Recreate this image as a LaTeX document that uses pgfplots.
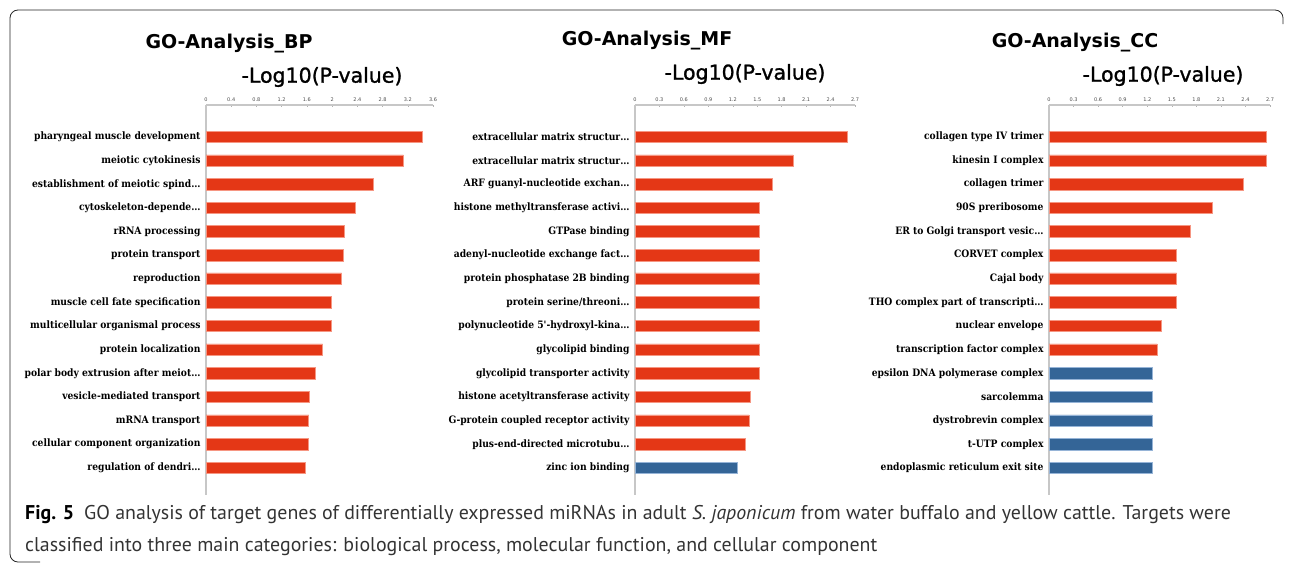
\documentclass[border=0pt]{standalone}
\usepackage{fontspec}
\usepackage{pgfplots}
\pgfplotsset{compat=1.18}
\setmainfont{DejaVu Sans}
\newfontfamily\lblfont[FakeStretch=0.9]{DejaVu Serif}
\newfontfamily\subfont[FakeBold=1.2]{DejaVu Sans}
\newfontfamily\capfont{PT Sans}

\definecolor{gored}{RGB}{228,55,22}
\definecolor{goblue}{RGB}{52,101,151}
\definecolor{rededge}{RGB}{246,150,130}
\definecolor{blueedge}{RGB}{150,180,215}

\pgfplotsset{
  goaxis/.style={
    scale only axis, xbar, bar width=11.5pt,
    height=390pt, xmin=0,
    y dir=reverse, ymin=-1.35, ymax=15.15, ytick={0,...,14},
    axis x line*=top, axis y line*=left,
    axis line style={black!22, line width=1.2pt},
    major tick length=2pt, tick style={black!30, line width=0.4pt},
    ytick style={draw=none},
    x tick label style={font=\fontsize{5}{5}\selectfont, text=black!70},
    y tick label style={font=\lblfont\bfseries\fontsize{10.2}{11}\selectfont, text=black},
    /pgf/number format/assume math mode=true,
  },
  redbar/.style={fill=gored, draw=rededge, line width=0.6pt, bar shift=0pt},
  bluebar/.style={fill=goblue, draw=blueedge, line width=0.6pt, bar shift=0pt},
}

\begin{document}
\begin{tikzpicture}[x=1pt, y=-1pt]
\useasboundingbox (0,0) rectangle (1292,565);

% frame
\draw[black!85, line width=0.8pt, rounded corners=8pt] (1283,24) -- (1283,10) -- (10,10) -- (10,562) -- (40,562);

% titles
\node[font=\bfseries\fontsize{19}{19}\selectfont] at (229,44) {GO-Analysis\_BP};
\node[font=\bfseries\fontsize{19}{19}\selectfont] at (647,41) {GO-Analysis\_MF};
\node[font=\bfseries\fontsize{19}{19}\selectfont] at (1075,43) {GO-Analysis\_CC};
\node[font=\subfont\fontsize{20.5}{21}\selectfont] at (322,77) {-Log10(P-value)};
\node[font=\subfont\fontsize{20.5}{21}\selectfont] at (745,74) {-Log10(P-value)};
\node[font=\subfont\fontsize{20.5}{21}\selectfont] at (1163,76) {-Log10(P-value)};

% BP
\begin{axis}[goaxis, at={(206pt,-105pt)}, anchor=north west, width=227pt,
  xmax=3.6, xtick={0,0.4,0.8,1.2,1.6,2,2.4,2.8,3.2,3.6},
  xticklabels={0,0.4,0.8,1.2,1.6,2,2.4,2.8,3.2,3.6},
  yticklabels={pharyngeal muscle development, meiotic cytokinesis,
    establishment of meiotic spind\dots, cytoskeleton-depende\dots,
    rRNA processing, protein transport, reproduction,
    muscle cell fate specification, multicellular organismal process,
    protein localization, polar body extrusion after meiot\dots,
    vesicle-mediated transport, mRNA transport,
    cellular component organization, regulation of dendri\dots}]
\addplot[redbar] coordinates {
  (3.43,0) (3.13,1) (2.66,2) (2.37,3) (2.19,4) (2.18,5) (2.15,6) (1.99,7)
  (1.99,8) (1.85,9) (1.73,10) (1.64,11) (1.63,12) (1.63,13) (1.58,14)};
\end{axis}

% MF
\begin{axis}[goaxis, at={(635pt,-105pt)}, anchor=north west, width=220pt,
  xmax=2.7, xtick={0,0.3,0.6,0.9,1.2,1.5,1.8,2.1,2.4,2.7},
  xticklabels={0,0.3,0.6,0.9,1.2,1.5,1.8,2.1,2.4,2.7},
  yticklabels={extracellular matrix structur\dots, extracellular matrix structur\dots,
    ARF guanyl-nucleotide exchan\dots, histone methyltransferase activi\dots,
    GTPase binding, adenyl-nucleotide exchange fact\dots,
    protein phosphatase 2B binding, protein serine/threoni\dots,
    polynucleotide 5'-hydroxyl-kina\dots, glycolipid binding,
    glycolipid transporter activity, histone acetyltransferase activity,
    G-protein coupled receptor activity, plus-end-directed microtubu\dots,
    zinc ion binding}]
\addplot[redbar] coordinates {
  (2.60,0) (1.94,1) (1.69,2) (1.53,3) (1.53,4) (1.53,5) (1.53,6) (1.53,7)
  (1.53,8) (1.53,9) (1.53,10) (1.42,11) (1.40,12) (1.35,13)};
\addplot[bluebar] coordinates {(1.26,14)};
\end{axis}

% CC
\begin{axis}[goaxis, at={(1049pt,-105pt)}, anchor=north west, width=221pt,
  xmax=2.7, xtick={0,0.3,0.6,0.9,1.2,1.5,1.8,2.1,2.4,2.7},
  xticklabels={0,0.3,0.6,0.9,1.2,1.5,1.8,2.1,2.4,2.7},
  yticklabels={collagen type IV trimer, kinesin I complex, collagen trimer,
    90S preribosome, ER to Golgi transport vesic\dots, CORVET complex,
    Cajal body, THO complex part of transcripti\dots, nuclear envelope,
    transcription factor complex, epsilon DNA polymerase complex,
    sarcolemma, dystrobrevin complex, t-UTP complex,
    endoplasmic reticulum exit site}]
\addplot[redbar] coordinates {
  (2.66,0) (2.66,1) (2.37,2) (1.99,3) (1.73,4) (1.56,5) (1.56,6) (1.56,7)
  (1.37,8) (1.32,9)};
\addplot[bluebar] coordinates {
  (1.26,10) (1.26,11) (1.26,12) (1.26,13) (1.26,14)};
\end{axis}

% caption
\node[anchor=base west, inner sep=0pt, text=black!80,
  font=\capfont\fontsize{19.9}{21}\selectfont] at (25,519)
  {\textcolor{black}{\textbf{Fig. 5}}\hspace{0.5em}GO analysis of target genes of differentially expressed miRNAs in adult \textit{S. japonicum} from water buffalo and yellow cattle. Targets were};
\node[anchor=base west, inner sep=0pt, text=black!80,
  font=\capfont\fontsize{19.9}{21}\selectfont] at (25,551)
  {classified into three main categories: biological process, molecular function, and cellular component};
\end{tikzpicture}
\end{document}
